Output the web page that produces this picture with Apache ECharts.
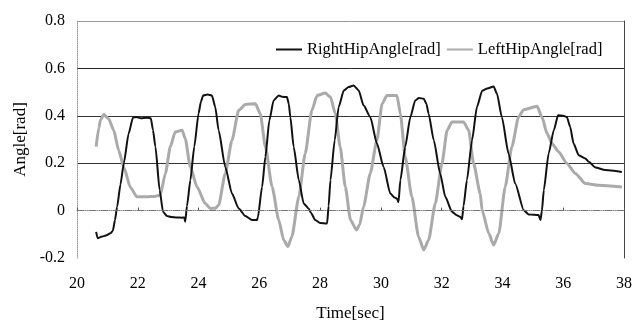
<!DOCTYPE html>
<html>
<head>
<meta charset="utf-8">
<script src="https://cdn.jsdelivr.net/npm/echarts@6/dist/echarts.min.js"></script>
<style>
html,body{margin:0;padding:0;background:#fff;}
#chart{width:632px;height:321px;}
</style>
</head>
<body>
<div id="chart"></div>
<script>
var xTicks = [20, 22, 24, 26, 28, 30, 32, 34, 36, 38];
var yTicks = [-0.2, 0, 0.2, 0.4, 0.6, 0.8];
var seriesNames = ["RightHipAngle[rad]", "LeftHipAngle[rad]"];

var rightTime = [20.63,20.68,20.80,20.95,21.10,21.18,21.25,21.32,21.43,21.54,21.70,21.84,21.95,22.10,22.30,22.43,22.50,22.58,22.72,22.83,22.96,23.10,23.29,23.45,23.53,23.56,23.62,23.73,23.86,24.00,24.08,24.15,24.30,24.44,24.55,24.66,24.88,25.10,25.32,25.54,25.76,25.92,25.95,26.09,26.20,26.33,26.47,26.64,26.75,26.91,26.97,27.02,27.13,27.30,27.46,27.62,27.70,27.84,28.00,28.23,28.28,28.34,28.48,28.61,28.78,28.94,29.10,29.27,29.43,29.65,29.87,30.09,30.31,30.45,30.53,30.58,30.64,30.80,30.97,31.13,31.25,31.41,31.50,31.57,31.74,31.95,32.12,32.34,32.50,32.61,32.67,32.72,32.83,33.00,33.16,33.33,33.50,33.71,33.82,33.98,34.20,34.42,34.70,34.86,35.05,35.19,35.25,35.30,35.36,35.52,35.69,35.83,36.00,36.12,36.23,36.34,36.51,36.73,36.84,37.06,37.38,37.93];
var rightAngle = [-0.09,-0.117,-0.11,-0.105,-0.096,-0.085,-0.04,0.016,0.11,0.20,0.325,0.392,0.395,0.39,0.392,0.39,0.34,0.27,0.086,-0.005,-0.023,-0.027,-0.029,-0.03,-0.029,-0.047,0.02,0.128,0.27,0.41,0.46,0.486,0.49,0.486,0.437,0.339,0.184,0.072,0.009,-0.023,-0.040,-0.040,-0.03,0.10,0.227,0.381,0.465,0.486,0.48,0.479,0.45,0.395,0.269,0.128,0.030,0.009,-0.01,-0.040,-0.052,-0.054,0.02,0.128,0.297,0.437,0.507,0.521,0.528,0.507,0.444,0.395,0.283,0.184,0.072,0.055,0.051,0.035,0.128,0.269,0.395,0.465,0.475,0.472,0.45,0.409,0.297,0.157,0.058,-0.005,-0.02,-0.026,-0.037,0.02,0.128,0.297,0.437,0.505,0.515,0.524,0.493,0.395,0.241,0.114,0.002,-0.016,-0.018,-0.019,-0.040,0.00,0.086,0.241,0.339,0.402,0.40,0.395,0.353,0.283,0.234,0.220,0.206,0.182,0.171,0.163];

var leftTime = [20.63,20.72,20.77,20.88,21.04,21.21,21.37,21.54,21.75,21.97,22.30,22.55,22.74,22.91,23.07,23.23,23.46,23.56,23.73,23.95,24.22,24.39,24.55,24.66,24.88,25.10,25.32,25.54,25.87,26.03,26.20,26.42,26.64,26.80,26.94,27.07,27.30,27.51,27.73,27.90,28.17,28.34,28.50,28.66,28.83,29.00,29.20,29.30,29.43,29.65,29.87,30.04,30.20,30.53,30.64,30.80,31.02,31.24,31.41,31.57,31.79,32.01,32.18,32.34,32.72,32.89,33.05,33.27,33.33,33.55,33.71,33.88,34.09,34.31,34.53,34.70,35.14,35.30,35.47,35.63,35.85,36.12,36.40,36.73,37.17,37.93];
var leftAngle = [0.27,0.35,0.381,0.405,0.388,0.339,0.255,0.184,0.100,0.058,0.058,0.06,0.065,0.157,0.269,0.332,0.339,0.304,0.184,0.100,0.030,0.009,0.01,0.023,0.157,0.297,0.423,0.448,0.451,0.409,0.269,0.100,-0.040,-0.124,-0.152,-0.110,0.058,0.241,0.423,0.486,0.496,0.479,0.409,0.269,0.100,-0.040,-0.082,-0.06,0.016,0.157,0.297,0.451,0.486,0.486,0.409,0.227,0.058,-0.110,-0.166,-0.124,0.030,0.199,0.339,0.374,0.374,0.339,0.199,0.072,0.002,-0.096,-0.145,-0.096,0.100,0.269,0.395,0.426,0.440,0.395,0.325,0.283,0.248,0.199,0.157,0.114,0.107,0.100];

function zip(a, b) { return a.map(function (t, i) { return [t, b[i]]; }); }

var FONT = '"Liberation Serif", "Times New Roman", serif';
var chart = echarts.init(document.getElementById('chart'), null, {renderer: 'canvas'});
chart.setOption({
  animation: false,
  backgroundColor: '#fff',
  textStyle: {fontFamily: FONT, color: '#000'},
  grid: {left: 77, right: 8, top: 21, bottom: 63, show: false, containLabel: false, outerBoundsMode: 'none'},
  legend: {
    left: 276, top: 41, padding: 0,
    itemWidth: 26, itemHeight: 14, itemGap: 6,
    textStyle: {fontFamily: FONT, fontSize: 16.5, color: '#000'},
    data: [
      {name: seriesNames[0], icon: 'path://M0,0H26V2H0Z'},
      {name: seriesNames[1], icon: 'path://M0,0H26V2H0Z'}
    ]
  },
  xAxis: {
    type: 'value', min: xTicks[0], max: xTicks[xTicks.length - 1], interval: 2,
    name: 'Time[sec]', nameLocation: 'middle', nameGap: 47,
    nameTextStyle: {fontFamily: FONT, fontSize: 17, color: '#000'},
    axisLine: {lineStyle: {color: '#888', type: 'dotted', width: 1}},
    axisTick: {inside: true, length: 3, lineStyle: {color: '#555'}},
    axisLabel: {fontFamily: FONT, fontSize: 16, color: '#000', margin: 18},
    splitLine: {show: false}
  },
  yAxis: [{
    type: 'value', min: yTicks[0], max: yTicks[yTicks.length - 1], interval: 0.2,
    name: 'Angle[rad]', nameLocation: 'middle', nameGap: 44,
    nameTextStyle: {fontFamily: FONT, fontSize: 17, color: '#000'},
    axisLine: {show: true, lineStyle: {color: '#999', type: 'dotted'}},
    axisTick: {show: false},
    axisLabel: {fontFamily: FONT, fontSize: 16, color: '#000', margin: 12,
      formatter: function (v) { return String(Math.round(v * 10) / 10); }},
    splitLine: {show: true, lineStyle: {color: ['rgba(0,0,0,0)', 'rgba(0,0,0,0)', '#333', '#333', '#222', '#999'], width: 1}}
  }, {
    type: 'value', min: yTicks[0], max: yTicks[yTicks.length - 1], interval: 0.2, position: 'right',
    axisLine: {show: true, lineStyle: {color: '#444', width: 1}},
    axisTick: {show: false}, axisLabel: {show: false}, splitLine: {show: false}
  }],
  series: [
    {
      name: seriesNames[0], type: 'line', data: zip(rightTime, rightAngle),
      showSymbol: false, smooth: 0.2, smoothMonotone: 'x', z: 3,
      lineStyle: {color: '#111', width: 2},
      itemStyle: {color: '#111'},
      markLine: {
        silent: true, symbol: 'none', label: {show: false},
        lineStyle: {color: '#777', type: [7, 5], width: 1},
        data: [{yAxis: 0}]
      }
    },
    {
      name: seriesNames[1], type: 'line', data: zip(leftTime, leftAngle),
      showSymbol: false, smooth: 0.2, smoothMonotone: 'x', z: 2,
      lineStyle: {color: '#aaa', width: 3},
      itemStyle: {color: '#aaa'}
    }
  ]
});
</script>
</body>
</html>
